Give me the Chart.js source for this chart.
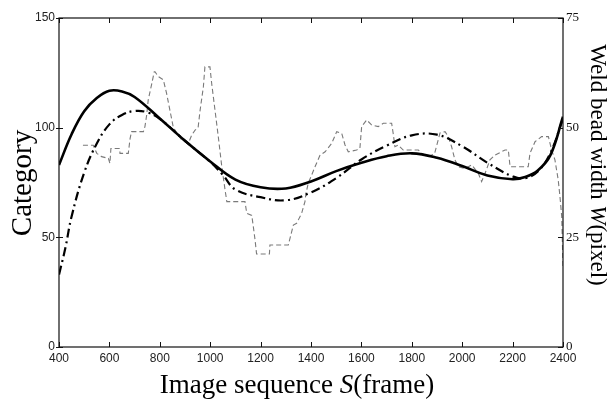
<!DOCTYPE html>
<html>
<head>
<meta charset="utf-8">
<script src="https://cdn.jsdelivr.net/npm/chart.js@4.4.1/dist/chart.umd.min.js"></script>
<style>
html,body{margin:0;padding:0;background:#fff;}
#wrap{width:614px;height:401px;position:relative;}
</style>
</head>
<body>
<div id="wrap"><canvas id="c" width="614" height="401"></canvas></div>
<script>
// ---- data ----
const xTicks = [400, 600, 800, 1000, 1200, 1400, 1600, 1800, 2000, 2200, 2400];
const leftTicks = [0, 50, 100, 150];
const rightTicks = [0, 25, 50, 75];

const solidFrames = [400,450,500,550,600,650,700,800,900,1000,1100,1200,1300,1400,1500,1600,1700,1800,1900,2000,2100,2200,2250,2300,2350,2400];
const solidValues = [83,97,107.5,113.5,116.8,116.5,114,104.2,94,84.6,76.3,72.8,72.3,75.5,80.2,84,87,88.3,86.3,82.5,78.2,76.5,77.5,80.5,87.5,105];

const dashDotFrames = [400,425,450,500,550,600,650,700,750,800,900,1000,1050,1100,1200,1300,1400,1500,1600,1700,1800,1900,2000,2100,2200,2250,2300,2350,2400];
const dashDotValues = [33,45,59.5,79.5,92.8,101.5,105.8,107.6,107,104,94,84.4,78.5,71.8,68.3,66.9,70.5,77,85.5,91.8,96.5,96.8,91.5,84,77.8,77,80,88.5,104];

const measFrames = [495,536,550,569,596,602,606,641,642,675,682,688,735,741,748,754,768,778,781,794,814,827,840,853,867,887,913,927,940,952,960,973,979,999,1006,1019,1032,1046,1059,1066,1138,1145,1165,1171,1178,1184,1235,1237,1310,1330,1343,1363,1376,1380,1389,1416,1436,1456,1482,1502,1522,1535,1548,1581,1594,1601,1621,1641,1667,1687,1720,1727,1733,1746,1766,1826,1839,1860,1890,1912,1932,1945,1958,1971,1985,2011,2038,2064,2077,2091,2110,2130,2170,2183,2190,2262,2269,2289,2315,2342,2355,2368,2381,2388,2395,2400];
const measValues = [92,92,88.3,86.8,86,83.7,90.5,90.5,88.3,88.3,95,98.2,98.2,100.5,105.8,112.6,120,125.5,125.5,123.3,121.8,115.6,108,100.5,97.4,94.4,92.8,96.7,98.9,100,108,118.7,127.7,127.7,120,108,96,82.2,71.6,66.3,66.3,61,60,55,48.8,42.4,42.4,46.5,46.5,55.6,56.4,61,66.3,70,74.6,82.2,87.5,89,92.8,98.2,97.4,92.1,89,89.8,90.5,100.5,103.5,101.2,100.5,102,102,96.7,91.3,92.1,89.8,89.8,88.3,86.8,88,97.6,98.2,95.9,91.3,85.3,82.2,81.4,83,79.2,75.4,79.2,85.3,87.5,89.8,89.8,82.2,82.2,88.3,93.6,95.9,95.9,89.8,85.3,76.2,68.5,59.4,36.5];

const xTitle = ["Image sequence ", "S", "(frame)"];
const yTitle = "Category";
const y2Title = ["Weld bead width ", "W", "(pixel)"];

function pts(fr, vals){ return fr.map((f,i)=>({x:f, y:vals[i]})); }

// ---- frame plugin ----
const framePlugin = {
  id: 'frame',
  afterDraw(chart){
    const ctx = chart.ctx, a = chart.chartArea;
    const xs = chart.scales.x, yl = chart.scales.y, yr = chart.scales.y2;
    ctx.save();
    ctx.strokeStyle = '#111';
    ctx.lineWidth = 1.2;
    ctx.strokeRect(a.left, a.top, a.right - a.left, a.bottom - a.top);
    ctx.lineWidth = 1;
    ctx.beginPath();
    xTicks.forEach(v=>{
      const px = Math.round(xs.getPixelForValue(v)) + 0.5;
      ctx.moveTo(px, a.bottom); ctx.lineTo(px, a.bottom - 5);
      ctx.moveTo(px, a.top); ctx.lineTo(px, a.top + 5);
    });
    leftTicks.forEach(v=>{
      const py = Math.round(yl.getPixelForValue(v)) + 0.5;
      ctx.moveTo(a.left - 3, py); ctx.lineTo(a.left + 4, py);
    });
    rightTicks.forEach(v=>{
      const py = Math.round(yr.getPixelForValue(v)) + 0.5;
      ctx.moveTo(a.right, py); ctx.lineTo(a.right - 5, py);
    });
    ctx.stroke();

    // titles
    ctx.fillStyle = '#000';
    ctx.textBaseline = 'alphabetic';
    const serif = '"Liberation Serif", "Times New Roman", serif';
    function drawMixed(parts, size, cx, cy){
      const fonts = [size+'px '+serif, 'italic '+size+'px '+serif, size+'px '+serif];
      let w = 0; const ws = [];
      parts.forEach((p,i)=>{ ctx.font = fonts[i]; const m = ctx.measureText(p).width; ws.push(m); w += m; });
      let x = cx - w/2;
      ctx.textAlign = 'left';
      parts.forEach((p,i)=>{ ctx.font = fonts[i]; ctx.fillText(p, x, cy); x += ws[i]; });
    }
    drawMixed(xTitle, 27, (a.left + a.right)/2 - 14, 393);
    ctx.save();
    ctx.translate(31, 183);
    ctx.rotate(-Math.PI/2);
    ctx.font = '29px ' + serif;
    ctx.textAlign = 'center';
    ctx.fillText(yTitle, 0, 0);
    ctx.restore();
    ctx.save();
    ctx.translate(591, 165);
    ctx.rotate(Math.PI/2);
    drawMixed(y2Title, 23, 0, 0);
    ctx.restore();
    ctx.restore();
  }
};

const sans = '"Liberation Sans", Arial, sans-serif';
const plain = v => String(v);

new Chart(document.getElementById('c'), {
  type: 'line',
  data: {
    datasets: [
      { data: pts(solidFrames, solidValues), borderColor: '#000', borderWidth: 2.6,
        tension: 0.4, pointRadius: 0, yAxisID: 'y' },
      { data: pts(dashDotFrames, dashDotValues), borderColor: '#000', borderWidth: 2.2,
        borderDash: [9,4,2,4], tension: 0.4, pointRadius: 0, yAxisID: 'y' },
      { data: pts(measFrames, measValues), borderColor: '#7a7a7a', borderWidth: 1.1,
        borderDash: [5,3], tension: 0, pointRadius: 0, yAxisID: 'y' }
    ]
  },
  options: {
    responsive: false,
    animation: false,
    devicePixelRatio: 1,
    layout: { padding: { top: 18, left: 0, right: 0, bottom: 0 } },
    plugins: { legend: { display: false }, tooltip: { enabled: false } },
    scales: {
      x: {
        type: 'linear', min: 400, max: 2400,
        afterBuildTicks: s => { s.ticks = xTicks.map(v=>({value:v})); },
        afterFit: s => { s.height = 54; },
        grid: { display: false, drawTicks: false },
        border: { display: false },
        ticks: { padding: 4, maxRotation: 0, autoSkip: false, color: '#222', callback: plain, font: { family: sans, size: 12 } }
      },
      y: {
        position: 'left', min: 0, max: 150,
        afterBuildTicks: s => { s.ticks = leftTicks.map(v=>({value:v})); },
        afterFit: s => { s.width = 59; },
        grid: { display: false, drawTicks: false },
        border: { display: false },
        ticks: { padding: 4, color: '#222', callback: plain, font: { family: sans, size: 12 } }
      },
      y2: {
        position: 'right', min: 0, max: 75,
        afterBuildTicks: s => { s.ticks = rightTicks.map(v=>({value:v})); },
        afterFit: s => { s.width = 51; },
        grid: { display: false, drawTicks: false },
        border: { display: false },
        ticks: { padding: 3, color: '#111', callback: plain, font: { family: '"Liberation Serif", serif', size: 13 } }
      }
    }
  },
  plugins: [framePlugin]
});
</script>
</body>
</html>
